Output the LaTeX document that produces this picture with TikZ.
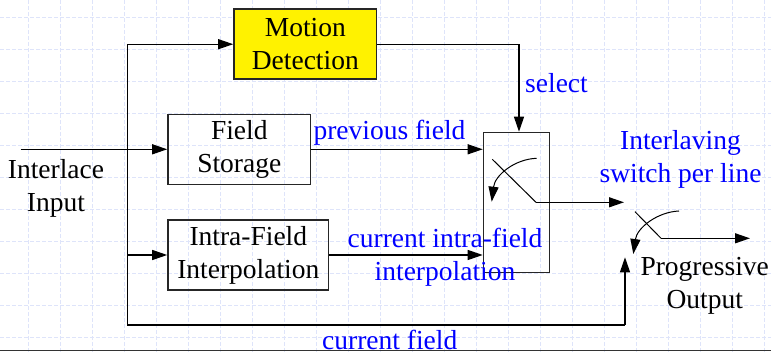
\documentclass[tikz,border=0pt]{standalone}
\usepackage{fontspec}
\setmainfont{Liberation Serif}
\usetikzlibrary{arrows.meta}
\definecolor{gridblue}{RGB}{222,228,250}

\begin{document}
\begin{tikzpicture}[
        x=1pt, y=-1pt,
        font=\fontsize{27.5}{33}\selectfont,
        gridline/.style={gridblue, line width=0.8pt, dash pattern=on 4pt off 2pt},
        block/.style={draw=black!85, line width=1.5pt, inner sep=0pt, align=center, minimum height=70pt},
        tag/.style={text=blue, inner sep=0pt, align=center},
        wire/.style={draw, line width=1.2pt},
        link/.style={draw, line width=1.2pt, -{Triangle[length=15pt, width=10pt]}},
        lever/.style={draw, line width=1pt}]
    \clip (0,0) rectangle (771,352);
    % grid of the drawing canvas
    \foreach \gx in {0,...,23} \draw[gridline] (28.5+32*\gx,0) -- (28.5+32*\gx,352);
    \foreach \gy in {0,...,10} \draw[gridline] (0,17+32*\gy) -- (771,17+32*\gy);
    % blocks
    \node[block, fill=yellow, minimum width=142.7pt] (motion) at (305.3,44.2) {Motion\\Detection};
    \node[block, minimum width=142.7pt] (storage) at (239.3,149.3) {Field\\Storage};
    \node[block, minimum width=160.7pt] (intra) at (248.3,255) {Intra-Field\\Interpolation};
    \node[block, line width=1.2pt, minimum width=66pt, minimum height=140pt] (switch) at (516.3,202.3) {};
    \node[align=center, inner sep=0pt] (input) at (56,188.6) {Interlace\\Input};
    \node[align=center, inner sep=0pt] (output) at (704.7,285.7) {Progressive\\Output};
    % corners of the wiring
    \coordinate (in) at (20.7,149.3);
    \coordinate (top) at (127.7,44.2);
    \coordinate (bot) at (127.7,325);
    \coordinate (out) at (625,325);
    \coordinate (outtip) at (625,257.3);
    % switch levers
    \coordinate (p1) at (492.3,159.3);
    \coordinate (p2) at (536,202.3);
    \coordinate (p3) at (624,202.3);
    \coordinate (q1) at (635,211.7);
    \coordinate (q2) at (661,238.3);
    \coordinate (q3) at (750,238.3);
    % connectors
    \path[link] (in) -- (storage.west);
    \path[link] (top) -- (motion.west);
    \path[wire] (top) -- (bot) -- (out);
    \path[link] (out) -- (outtip);
    \path[link] (bot |- intra) -- (intra.west);
    \path[link] (motion.east) -| ([xshift=2.7pt]switch.north);
    \path[link] (storage.east) -- (switch.west |- storage);
    \path[link] (intra.east) -- (switch.west |- intra);
    \path[lever] (p1) -- (p2);
    \path[link] (p2) -- (p3);
    \path[link, line width=1pt] (536.7,158.3) .. controls (515,159) and (495,175) .. (491.7,201.7);
    \path[lever] (q1) -- (q2);
    \path[link] (q2) -- (q3);
    \path[link, line width=1pt] (679,211) .. controls (657,212) and (637,228) .. (633.3,254);
    % blue labels
    \node[tag, anchor=base west] (sel) at (525,92.7) {select};
    \node[tag, anchor=base west] (prev) at (313.3,139.3) {previous field};
    \node[tag] (cif) at (445,257.3) {current intra-field\\interpolation};
    \node[tag] (ils) at (680.5,159.5) {Interlaving\\switch per line};
    \node[tag, anchor=base] (cur) at (389.7,350) {current field};
    \draw[line width=1.5pt, black!80] (0,350.7) -- (771,350.7);
\end{tikzpicture}
\end{document}
